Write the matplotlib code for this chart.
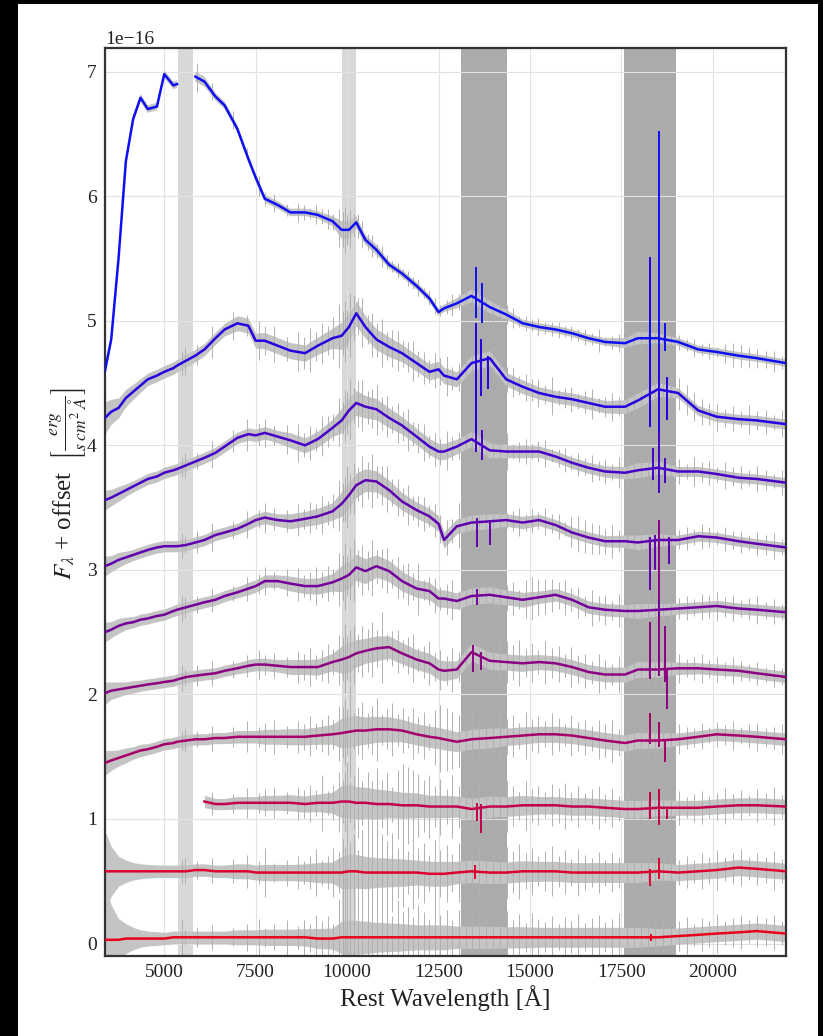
import numpy as np
import matplotlib
matplotlib.use("Agg")
import matplotlib.pyplot as plt
from matplotlib.patches import Rectangle

nan = np.nan

# ---------------- data (flux in units of 1e-16, already offset) ----------------
wave = [3380, 3550, 3750, 3950, 4150, 4350, 4550, 4800, 5000, 5250, 5350, 5600,
        5850, 6100, 6400, 6650, 7000, 7300, 7500, 7750, 8100, 8450, 8850, 9200,
        9600, 9850, 10050, 10250, 10500, 10800, 11150, 11500, 11900, 12250, 12500,
        12650, 13000, 13400, 13900, 14350, 14800, 15250, 15700, 16150, 16600, 17050,
        17600, 17950, 18500, 19050, 19600, 20100, 20700, 21200, 22000]

flux_9 = [4.60, 4.85, 5.50, 6.28, 6.62, 6.79, 6.70, 6.72, 6.98, 6.89, 6.90, nan,
          6.96, 6.92, 6.80, 6.73, 6.54, 6.30, 6.15, 5.98, 5.93, 5.87, 5.87, 5.85,
          5.80, 5.73, 5.73, 5.79, 5.65, 5.57, 5.45, 5.38, 5.28, 5.18, 5.07,
          5.10, 5.14, 5.20, 5.11, 5.05, 4.98, 4.95, 4.93, 4.90, 4.86, 4.83,
          4.82, 4.86, 4.86, 4.83, 4.77, 4.75, 4.72, 4.70, 4.66]
flux_8 = [4.22, 4.27, 4.30, 4.38, 4.43, 4.48, 4.53, 4.56, 4.59, 4.62, 4.64, 4.68,
          4.72, 4.77, 4.86, 4.93, 4.98, 4.96, 4.84, 4.84, 4.80, 4.76, 4.74, 4.80,
          4.86, 4.88, 4.95, 5.06, 4.95, 4.85, 4.79, 4.74, 4.66, 4.59, 4.61,
          4.56, 4.53, 4.66, 4.70, 4.53, 4.47, 4.42, 4.39, 4.37, 4.34, 4.31,
          4.31, 4.36, 4.45, 4.42, 4.28, 4.23, 4.21, 4.20, 4.17]
flux_7 = [3.56, 3.58, 3.61, 3.64, 3.67, 3.70, 3.73, 3.75, 3.78, 3.80, 3.81, 3.84,
          3.87, 3.90, 3.94, 3.99, 4.06, 4.09, 4.08, 4.10, 4.07, 4.04, 4.00, 4.05,
          4.14, 4.20, 4.28, 4.34, 4.31, 4.29, 4.22, 4.16, 4.07, 3.99, 3.95,
          3.95, 3.99, 4.05, 3.96, 3.95, 3.95, 3.95, 3.91, 3.86, 3.82, 3.79,
          3.78, 3.80, 3.82, 3.79, 3.79, 3.77, 3.74, 3.73, 3.70]
flux_6 = [3.03, 3.05, 3.08, 3.10, 3.12, 3.14, 3.16, 3.18, 3.19, 3.19, 3.19, 3.20,
          3.22, 3.24, 3.28, 3.30, 3.33, 3.37, 3.40, 3.42, 3.40, 3.39, 3.41, 3.43,
          3.47, 3.53, 3.60, 3.68, 3.72, 3.71, 3.64, 3.55, 3.48, 3.43, 3.37,
          3.24, 3.35, 3.38, 3.39, 3.40, 3.38, 3.40, 3.36, 3.30, 3.26, 3.23,
          3.23, 3.22, 3.24, 3.24, 3.27, 3.26, 3.23, 3.21, 3.18]
flux_5 = [2.50, 2.52, 2.55, 2.57, 2.58, 2.60, 2.61, 2.63, 2.64, 2.67, 2.68, 2.70,
          2.72, 2.74, 2.76, 2.79, 2.82, 2.85, 2.87, 2.91, 2.91, 2.89, 2.87, 2.87,
          2.90, 2.93, 2.96, 3.02, 2.99, 3.03, 2.99, 2.91, 2.85, 2.83, 2.77,
          2.77, 2.75, 2.79, 2.80, 2.78, 2.76, 2.78, 2.80, 2.76, 2.70, 2.68,
          2.67, 2.67, 2.68, 2.69, 2.70, 2.71, 2.69, 2.68, 2.66]
flux_4 = [2.01, 2.03, 2.04, 2.05, 2.06, 2.07, 2.08, 2.09, 2.10, 2.11, 2.12, 2.14,
          2.15, 2.16, 2.17, 2.19, 2.21, 2.23, 2.24, 2.24, 2.23, 2.22, 2.22, 2.22,
          2.26, 2.28, 2.30, 2.33, 2.35, 2.37, 2.38, 2.33, 2.28, 2.25, 2.20,
          2.19, 2.20, 2.34, 2.27, 2.26, 2.25, 2.26, 2.25, 2.22, 2.18, 2.16,
          2.16, 2.20, 2.20, 2.21, 2.21, 2.20, 2.19, 2.17, 2.14]
flux_3 = [1.45, 1.47, 1.49, 1.51, 1.53, 1.55, 1.56, 1.58, 1.60, 1.61, 1.62, 1.63,
          1.64, 1.64, 1.65, 1.65, 1.66, 1.66, 1.66, 1.66, 1.66, 1.66, 1.66, 1.67,
          1.68, 1.69, 1.70, 1.71, 1.71, 1.72, 1.72, 1.71, 1.68, 1.66, 1.65,
          1.64, 1.62, 1.64, 1.65, 1.66, 1.67, 1.68, 1.68, 1.67, 1.65, 1.63,
          1.61, 1.63, 1.63, 1.64, 1.66, 1.68, 1.67, 1.66, 1.64]
flux_2 = [nan, nan, nan, nan, nan, nan, nan, nan, nan, nan, nan, nan,
          nan, 1.14, 1.12, 1.12, 1.13, 1.13, 1.13, 1.13, 1.13, 1.13, 1.12, 1.13,
          1.13, 1.14, 1.14, 1.13, 1.13, 1.12, 1.12, 1.11, 1.11, 1.10, 1.10,
          1.10, 1.10, 1.08, 1.10, 1.10, 1.11, 1.11, 1.11, 1.10, 1.10, 1.09,
          1.08, 1.08, 1.09, 1.09, 1.09, 1.10, 1.11, 1.11, 1.10]
flux_1 = [0.58, 0.58, 0.58, 0.58, 0.58, 0.58, 0.58, 0.58, 0.58, 0.58, 0.58, 0.58,
          0.59, 0.59, 0.58, 0.58, 0.58, 0.58, 0.57, 0.57, 0.57, 0.57, 0.57, 0.57,
          0.57, 0.57, 0.58, 0.58, 0.57, 0.57, 0.57, 0.57, 0.57, 0.56, 0.56,
          0.56, 0.57, 0.58, 0.57, 0.57, 0.58, 0.58, 0.58, 0.57, 0.57, 0.57,
          0.57, 0.57, 0.58, 0.57, 0.58, 0.59, 0.61, 0.60, 0.58]
flux_0 = [0.03, 0.03, 0.03, 0.04, 0.04, 0.04, 0.04, 0.04, 0.04, 0.05, 0.05, 0.05,
          0.05, 0.05, 0.05, 0.05, 0.05, 0.05, 0.05, 0.05, 0.05, 0.05, 0.05, 0.04,
          0.04, 0.05, 0.05, 0.05, 0.05, 0.05, 0.05, 0.05, 0.05, 0.05, 0.05,
          0.05, 0.05, 0.05, 0.05, 0.05, 0.05, 0.05, 0.05, 0.05, 0.05, 0.05,
          0.05, 0.05, 0.05, 0.06, 0.07, 0.08, 0.09, 0.10, 0.08]

# half-width of the grey uncertainty envelope of each spectrum
err_9 = [0.05, 0.04, 0.03, 0.03, 0.03, 0.03, 0.03, 0.03, 0.03, 0.03, 0.03, 0.03,
         0.04, 0.04, 0.03, 0.03, 0.03, 0.03, 0.03, 0.03, 0.03, 0.03, 0.03, 0.03,
         0.04, 0.07, 0.07, 0.05, 0.04, 0.04, 0.03, 0.03, 0.03, 0.03, 0.03,
         0.03, 0.04, 0.05, 0.05, 0.04, 0.03, 0.03, 0.03, 0.03, 0.03, 0.03,
         0.04, 0.05, 0.04, 0.03, 0.03, 0.03, 0.03, 0.03, 0.03]
err_8 = [0.13, 0.10, 0.08, 0.07, 0.06, 0.055, 0.05, 0.05, 0.05, 0.05, 0.05, 0.05,
         0.05, 0.05, 0.05, 0.05, 0.06, 0.06, 0.06, 0.065, 0.065, 0.065, 0.065, 0.07,
         0.08, 0.11, 0.11, 0.10, 0.09, 0.085, 0.08, 0.07, 0.065, 0.065, 0.065,
         0.065, 0.06, 0.06, 0.06, 0.055, 0.055, 0.05, 0.05, 0.05, 0.05, 0.05,
         0.055, 0.06, 0.055, 0.04, 0.04, 0.04, 0.04, 0.04, 0.04]
err_7 = [0.08, 0.065, 0.06, 0.05, 0.045, 0.045, 0.045, 0.045, 0.045, 0.045, 0.045, 0.045,
         0.045, 0.045, 0.045, 0.045, 0.045, 0.05, 0.05, 0.05, 0.05, 0.06, 0.06, 0.065,
         0.07, 0.10, 0.105, 0.10, 0.09, 0.085, 0.08, 0.07, 0.065, 0.065, 0.065,
         0.065, 0.06, 0.06, 0.06, 0.05, 0.05, 0.045, 0.045, 0.045, 0.045, 0.045,
         0.05, 0.06, 0.05, 0.04, 0.04, 0.04, 0.04, 0.04, 0.04]
err_6 = [0.08, 0.065, 0.06, 0.05, 0.045, 0.045, 0.045, 0.045, 0.045, 0.045, 0.045, 0.045,
         0.045, 0.045, 0.045, 0.045, 0.045, 0.05, 0.05, 0.05, 0.05, 0.06, 0.06, 0.065,
         0.07, 0.10, 0.105, 0.10, 0.09, 0.085, 0.08, 0.07, 0.065, 0.065, 0.065,
         0.065, 0.06, 0.06, 0.06, 0.05, 0.05, 0.045, 0.045, 0.045, 0.045, 0.045,
         0.05, 0.06, 0.05, 0.04, 0.04, 0.04, 0.04, 0.04, 0.04]
err_5 = [0.08, 0.065, 0.06, 0.05, 0.045, 0.045, 0.045, 0.045, 0.045, 0.045, 0.045, 0.045,
         0.045, 0.045, 0.045, 0.045, 0.045, 0.05, 0.05, 0.05, 0.05, 0.06, 0.06, 0.065,
         0.07, 0.105, 0.11, 0.105, 0.10, 0.09, 0.085, 0.08, 0.07, 0.07, 0.07,
         0.07, 0.065, 0.065, 0.065, 0.06, 0.06, 0.05, 0.05, 0.05, 0.05, 0.05,
         0.05, 0.06, 0.05, 0.045, 0.045, 0.045, 0.045, 0.045, 0.045]
err_4 = [0.09, 0.07, 0.06, 0.05, 0.05, 0.045, 0.045, 0.045, 0.045, 0.045, 0.045, 0.045,
         0.045, 0.045, 0.045, 0.045, 0.045, 0.05, 0.05, 0.05, 0.05, 0.06, 0.06, 0.065,
         0.07, 0.11, 0.12, 0.11, 0.10, 0.10, 0.09, 0.085, 0.08, 0.08, 0.08,
         0.08, 0.07, 0.07, 0.07, 0.065, 0.065, 0.06, 0.06, 0.06, 0.06, 0.06,
         0.06, 0.065, 0.06, 0.05, 0.045, 0.045, 0.045, 0.045, 0.045]
err_3 = [0.10, 0.08, 0.065, 0.06, 0.05, 0.05, 0.045, 0.045, 0.045, 0.045, 0.045, 0.045,
         0.045, 0.045, 0.045, 0.045, 0.05, 0.05, 0.05, 0.06, 0.06, 0.065, 0.065, 0.07,
         0.08, 0.12, 0.125, 0.12, 0.11, 0.105, 0.10, 0.09, 0.085, 0.085, 0.085,
         0.085, 0.08, 0.08, 0.08, 0.07, 0.07, 0.065, 0.065, 0.065, 0.065, 0.065,
         0.065, 0.065, 0.06, 0.05, 0.05, 0.05, 0.05, 0.05, 0.05]
err_2 = [nan, nan, nan, nan, nan, nan, nan, nan, nan, nan, nan, nan,
         nan, 0.05, 0.045, 0.045, 0.05, 0.05, 0.05, 0.06, 0.06, 0.065, 0.065, 0.07,
         0.085, 0.13, 0.135, 0.13, 0.125, 0.12, 0.11, 0.105, 0.10, 0.09, 0.09,
         0.09, 0.085, 0.085, 0.085, 0.08, 0.08, 0.07, 0.07, 0.07, 0.07, 0.07,
         0.07, 0.07, 0.065, 0.06, 0.06, 0.06, 0.06, 0.06, 0.06]
err_1 = [0.32, 0.20, 0.12, 0.09, 0.07, 0.06, 0.055, 0.05, 0.05, 0.05, 0.05, 0.05,
         0.05, 0.05, 0.05, 0.05, 0.06, 0.06, 0.06, 0.065, 0.065, 0.065, 0.07, 0.08,
         0.085, 0.13, 0.14, 0.135, 0.13, 0.12, 0.115, 0.11, 0.10, 0.10, 0.10,
         0.10, 0.09, 0.09, 0.09, 0.085, 0.085, 0.08, 0.08, 0.08, 0.08, 0.08,
         0.08, 0.08, 0.07, 0.065, 0.065, 0.065, 0.065, 0.065, 0.065]
err_0 = [0.45, 0.28, 0.17, 0.12, 0.09, 0.07, 0.06, 0.055, 0.05, 0.05, 0.05, 0.05,
         0.05, 0.05, 0.05, 0.05, 0.06, 0.06, 0.06, 0.065, 0.065, 0.065, 0.07, 0.08,
         0.085, 0.13, 0.14, 0.135, 0.13, 0.12, 0.115, 0.11, 0.10, 0.10, 0.10,
         0.10, 0.09, 0.09, 0.09, 0.085, 0.085, 0.08, 0.08, 0.08, 0.08, 0.08,
         0.08, 0.08, 0.07, 0.065, 0.065, 0.065, 0.065, 0.065, 0.065]

# night-sky residual lines seen as grey spikes (wavelength, relative strength)
sky_wave = [5490, 5577, 5890, 6300, 6870, 7250, 7600, 7750, 7990, 8350, 8650,
            8830, 8990, 9150, 9320, 9480, 9620, 9790, 9900, 9950, 10000, 10080,
            10180, 10300, 10420, 10560, 10690, 10830, 10960, 11090, 11230, 11380, 11520,
            11660, 11810, 11950, 12100, 12240, 12390, 12550, 12720, 12880, 13060, 13240,
            13420, 13610, 13800, 13990, 14170, 14360, 14540, 14700, 14880, 15050, 15230,
            15420, 15590, 15780, 15950, 16120, 16320, 16500, 16690, 16880, 17060, 17250,
            17440, 17650, 17840, 18030, 18220, 18420, 18650, 18850, 19070, 19280, 19480,
            19690, 19900, 20120, 20340, 20560, 20780, 21000, 21220, 21450, 21680, 21900]
sky_strength = [3.0, 1.2, 1.6, 2.0, 1.3, 1.8, 2.4, 1.2, 1.6, 2.2, 1.4,
                2.0, 1.5, 2.4, 1.7, 2.2, 1.3, 2.6, 3.2, 3.0, 2.8, 2.6,
                2.2, 2.8, 1.8, 2.5, 1.6, 2.9, 2.0, 2.4, 1.5, 2.7, 1.9,
                2.3, 1.6, 2.6, 2.0, 1.4, 2.5, 1.8, 2.2, 1.5, 2.4, 2.0,
                2.6, 1.7, 2.3, 1.5, 2.0, 2.5, 1.6, 2.2, 1.4, 2.4, 1.8,
                1.5, 2.1, 1.3, 2.0, 1.6, 2.3, 1.4, 1.9, 2.2, 1.5, 1.8,
                2.4, 1.6, 2.0, 1.4, 2.2, 1.7, 2.5, 1.5, 1.9, 2.3, 1.4,
                2.0, 1.6, 2.4, 1.5, 1.8, 2.1, 1.4, 2.0, 1.7, 2.2, 1.5]

# strong residual spikes of the coloured spectra (wavelength, low, high)
spikes_9 = [(13530, 5.02, 5.43), (13700, 4.98, 5.30), (18270, 4.78, 5.00), (18540, 4.80, 6.52), (18700, 4.76, 4.98)]
spikes_8 = [(13530, 4.10, 4.98), (13650, 4.40, 4.85), (13850, 4.45, 4.72), (18270, 4.15, 5.51), (18540, 4.10, 4.80), (18750, 4.20, 4.55)]
spikes_7 = [(13530, 3.95, 4.20), (13700, 3.88, 4.12), (18350, 3.72, 3.98), (18540, 3.62, 4.20), (18700, 3.70, 3.90)]
spikes_6 = [(13550, 3.18, 3.42), (13900, 3.20, 3.40), (18270, 2.84, 3.26), (18420, 3.00, 3.28), (18800, 3.05, 3.26)]
spikes_5 = [(13550, 2.72, 2.85), (18540, 2.62, 2.76)]
spikes_4 = [(13450, 2.18, 2.40), (13650, 2.20, 2.34), (18270, 2.12, 2.58), (18540, 2.15, 3.40), (18700, 2.10, 2.55), (18750, 1.88, 2.20)]
spikes_3 = [(18270, 1.60, 1.85), (18540, 1.58, 1.78), (18700, 1.46, 1.63)]
spikes_2 = [(13550, 0.98, 1.13), (13650, 0.89, 1.12), (18270, 1.00, 1.22), (18540, 0.95, 1.24), (18750, 1.00, 1.10)]
spikes_1 = [(13500, 0.52, 0.63), (18270, 0.46, 0.60), (18540, 0.52, 0.69)]
spikes_0 = [(18300, 0.02, 0.08)]

colors = ["#e6001c", "#dc002d", "#c3004b", "#a5006a", "#8c0082",
          "#73009b", "#5f00b0", "#4600c8", "#2500e0", "#0f0ff5"]

light_bands = [(5380, 5790), (9870, 10240)]
telluric_bands = [(13120, 14380), (17560, 18980)]

x_ticks = [5000, 7500, 10000, 12500, 15000, 17500, 20000]
y_ticks = [0, 1, 2, 3, 4, 5, 6, 7]

# ---------------- figure ----------------
plt.rcParams["font.family"] = ["Liberation Serif", "DejaVu Serif"]
plt.rcParams["mathtext.fontset"] = "stix"

fig = plt.figure(figsize=(8.23, 10.36), dpi=100, facecolor="black")
fig.add_artist(Rectangle((18 / 823, 0), 800 / 823, 1 - 4 / 1036,
                         transform=fig.transFigure, facecolor="white",
                         edgecolor="none", zorder=-10))
ax = fig.add_axes([105 / 823, 1 - 956 / 1036, 681 / 823, 908 / 1036])
ax.set_facecolor("white")

scale = 1e-16
w = np.array(wave, dtype=float)
fluxes = [flux_0, flux_1, flux_2, flux_3, flux_4, flux_5, flux_6, flux_7, flux_8, flux_9]
errs = [err_0, err_1, err_2, err_3, err_4, err_5, err_6, err_7, err_8, err_9]
spikes = [spikes_0, spikes_1, spikes_2, spikes_3, spikes_4, spikes_5, spikes_6, spikes_7, spikes_8, spikes_9]

for lo, hi in light_bands:
    ax.axvspan(lo, hi, color="#d8d8d8", lw=0, zorder=0.5)
for lo, hi in telluric_bands:
    ax.axvspan(lo, hi, color="#ababab", lw=0, zorder=0.5)

sw = np.array(sky_wave, dtype=float)
ss = np.array(sky_strength)
for i, (f, e, sp, c) in enumerate(zip(fluxes, errs, spikes, colors)):
    f = np.array(f, dtype=float)
    e = np.array(e, dtype=float)
    ax.fill_between(w, (f - e) * scale, (f + e) * scale, color="#c4c4c4",
                    lw=0, zorder=1)
    fc = np.interp(sw, w, f)
    ec = np.interp(sw, w, e)
    st = np.roll(ss, 7 * i)
    ax.vlines(sw, (fc - st * ec) * scale, (fc + st * ec) * scale,
              color="#b0b0b0", lw=0.7, zorder=1.5)
    ax.plot(w, f * scale, color=c, lw=1.8, zorder=3)
    for sx, slo, shi in sp:
        ax.vlines(sx, slo * scale, shi * scale, color=c, lw=1.4, zorder=3)

ax.set_xlim(3380, 22000)
ax.set_ylim(-0.1e-16, 7.19e-16)
ax.set_xticks(x_ticks)
ax.set_yticks([v * scale for v in y_ticks])
ax.grid(True, color="#e2e2e2", lw=0.8, zorder=0)
ax.set_axisbelow(True)
ax.tick_params(length=0, labelsize=14, pad=6, colors="#222222")
ax.yaxis.get_offset_text().set_fontsize(14)
for s in ax.spines.values():
    s.set_linewidth(1.6)
    s.set_color("#333333")

ax.set_xlabel("Rest Wavelength [Å]", fontsize=18, color="#222222", labelpad=3)
ax.set_ylabel(r"$F_\lambda$ + offset  $\left[\frac{erg}{s\;cm^2\;\AA}\right]$",
              fontsize=18, color="#222222")
ax.yaxis.set_label_coords(-0.024, 0.52)

fig.savefig("out.png", dpi=100, facecolor=fig.get_facecolor())
